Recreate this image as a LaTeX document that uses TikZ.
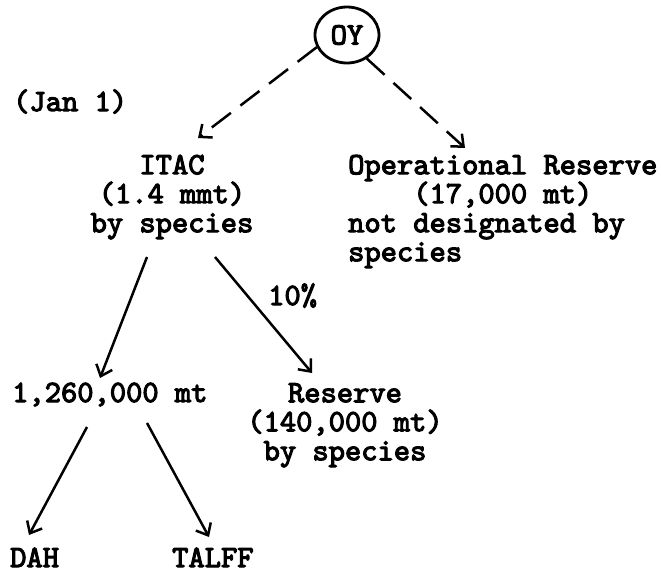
\documentclass[tikz,border=0pt]{standalone}
\usepackage{fontspec}
\newfontfamily\twfont{lmmono10-regular}[Extension=.otf, FakeBold=3.5]
\usetikzlibrary{arrows.meta,shapes.geometric}
\newcommand{\tstrut}{\rule{0pt}{24pt}}
\begin{document}
\begin{tikzpicture}[x=1pt,y=-1pt,
  tw/.style={font=\twfont\fontsize{31}{29}\selectfont, inner sep=0pt},
  arr/.style={line width=2.5pt, -{Straight Barb[length=10pt,width=17pt,line width=2.5pt]}},
  darr/.style={arr, dash pattern=on 24pt off 12pt}]
\useasboundingbox[fill=white] (0,0) rectangle (661,573);
\node[tw, draw, ellipse, line width=2.8pt, minimum width=64pt, minimum height=56pt] (oy) at (347,35) {OY};
\node[tw, anchor=base west] (jan) at (13,111) {(Jan 1)};
\node[tw, anchor=north, align=center] (itac) at (172,150) {\tstrut ITAC\\(1.4 mmt)\\by species};
\node[tw, anchor=north west, align=left] (opres) at (348,150) {\tstrut Operational Reserve\\\phantom{OOOO}(17,000 mt)\\not designated by\\species};
\node[tw, anchor=base west] (pct) at (268,305) {10\%};
\node[tw, anchor=base west] (one) at (12,402) {1,260,000 mt};
\node[tw, anchor=north, align=center] (res) at (345,378) {\tstrut Reserve\\(140,000 mt)\\by species};
\node[tw, anchor=base west] (dah) at (10,567) {DAH};
\node[tw, anchor=base west] (talff) at (172,567) {TALFF};
\draw[darr] (oy.-158) -- ([shift={(26,-12)}]itac.north);
\draw[darr] (oy.-50) -- ([shift={(117,-2)}]opres.north west);
\draw[arr] ([shift={(-25,107)}]itac.north) -- ([shift={(88,-24)}]one.base west);
\draw[arr] ([shift={(43,107)}]itac.north) -- ([shift={(-33,-5)}]res.north);
\draw[arr] ([shift={(75,25)}]one.base west) -- ([shift={(19,-32)}]dah.base west);
\draw[arr] ([shift={(135,21)}]one.base west) -- ([shift={(37,-30)}]talff.base west);
\end{tikzpicture}
\end{document}
